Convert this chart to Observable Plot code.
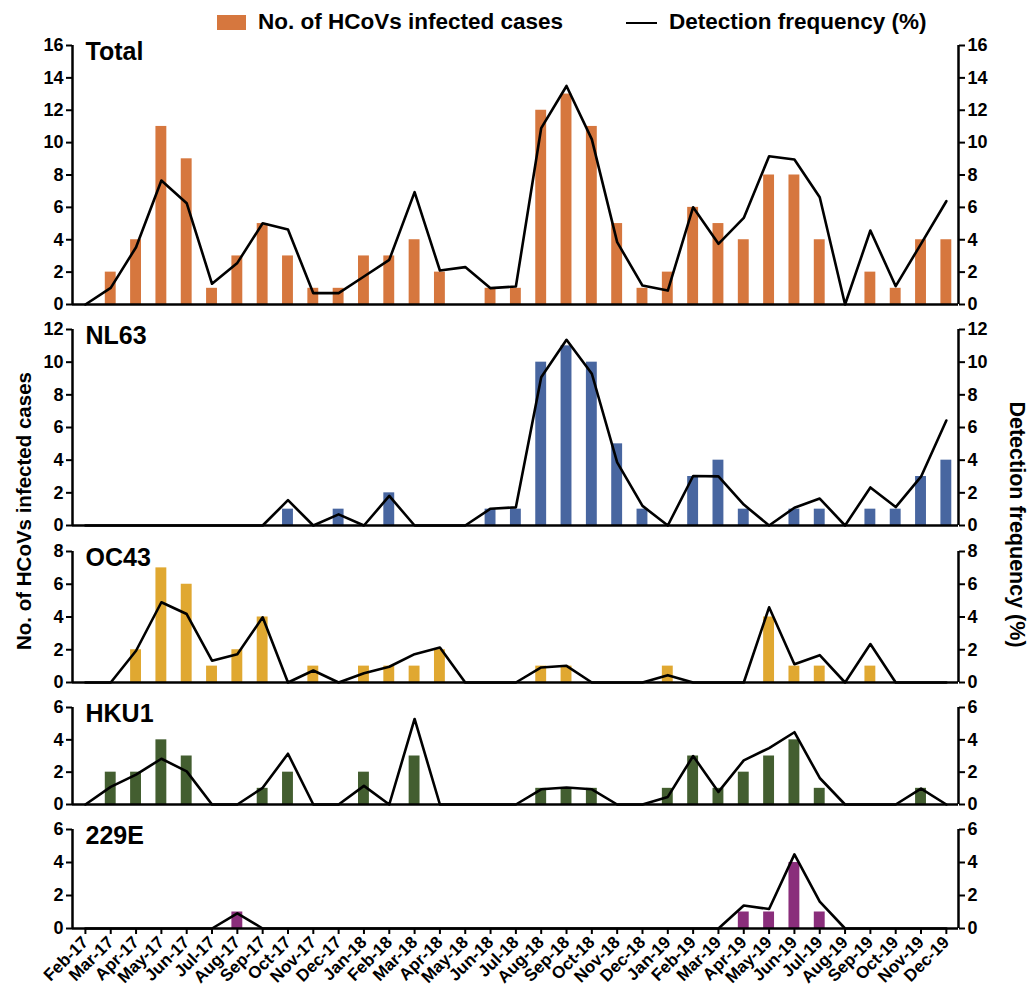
<!DOCTYPE html>
<html><head><meta charset="utf-8">
<script src="https://cdn.jsdelivr.net/npm/d3@7"></script>
<script src="https://cdn.jsdelivr.net/npm/@observablehq/plot@0.6"></script>
<style>
body{margin:0;background:#fff;}
#wrap{position:relative;width:1030px;height:994px;font-family:"Liberation Sans",Arial,sans-serif;font-weight:bold;color:#000;overflow:hidden;}
#wrap svg{position:absolute;left:0;overflow:visible;}
.leg{position:absolute;font-size:22.5px;line-height:26px;white-space:nowrap;}
.ylab{position:absolute;font-size:20.5px;white-space:nowrap;transform-origin:center center;}
</style>
</head><body>
<div id="wrap">
  <div class="leg" style="left:217px;top:15px;width:29px;height:15px;background:#D6773E"></div>
  <div class="leg" style="left:258px;top:9px;">No. of HCoVs infected cases</div>
  <div class="leg" style="left:626px;top:22px;width:31px;height:2px;background:#000"></div>
  <div class="leg" style="left:669px;top:9px;">Detection frequency (%)</div>
  <div class="ylab" id="ylabL">No. of HCoVs infected cases</div>
  <div class="ylab" id="ylabR" style="font-size:21.5px">Detection frequency (%)</div>
</div>
<script>
const months = ["Feb-17","Mar-17","Apr-17","May-17","Jun-17","Jul-17","Aug-17","Sep-17","Oct-17","Nov-17","Dec-17",
  "Jan-18","Feb-18","Mar-18","Apr-18","May-18","Jun-18","Jul-18","Aug-18","Sep-18","Oct-18","Nov-18","Dec-18",
  "Jan-19","Feb-19","Mar-19","Apr-19","May-19","Jun-19","Jul-19","Aug-19","Sep-19","Oct-19","Nov-19","Dec-19"];

const totalCases = [0,2,4,11,9,1,3,5,3,1,1, 3,3,4,2,0,1,1,12,13,11,5,1, 2,6,5,4,8,8,4,0,2,1,4,4];
const totalFreq  = [0,1.03,3.54,7.66,6.26,1.28,2.57,5.02,4.63,0.70,0.70, 1.73,2.76,6.94,2.10,2.31,1.01,1.11,10.9,13.5,10.2,3.85,1.17, 0.86,6.01,3.75,5.35,9.16,8.96,6.63,0,4.57,1.13,3.75,6.38];

const nl63Cases = [0,0,0,0,0,0,0,0,1,0,1, 0,2,0,0,0,1,1,10,11,10,5,1, 0,3,4,1,0,1,1,0,1,1,3,4];
const nl63Freq  = [0,0,0,0,0,0,0,0,1.55,0,0.68, 0,1.81,0,0,0,1.03,1.11,9.08,11.37,9.29,3.86,1.2, 0,3.03,3.01,1.28,0,1.09,1.65,0,2.33,1.13,2.99,6.43];

const oc43Cases = [0,0,2,7,6,1,2,4,0,1,0, 1,1,1,2,0,0,0,1,1,0,0,0, 1,0,0,0,4,1,1,0,1,0,0,0];
const oc43Freq  = [0,0,1.94,4.9,4.18,1.33,1.73,3.98,0,0.73,0, 0.57,0.96,1.73,2.14,0,0,0,0.92,1.02,0,0,0, 0.45,0,0,0,4.59,1.12,1.67,0,2.35,0,0,0];

const hku1Cases = [0,2,2,4,3,0,0,1,2,0,0, 2,0,3,0,0,0,0,1,1,1,0,0, 1,3,1,2,3,4,1,0,0,0,1,0];
const hku1Freq  = [0,1.09,1.85,2.83,2.05,0,0,1.03,3.14,0,0, 1.15,0,5.29,0,0,0,0,0.94,1.05,0.94,0,0, 0.47,3.0,0.78,2.73,3.49,4.47,1.64,0,0,0,0.98,0];

const e229Cases = [0,0,0,0,0,0,1,0,0,0,0, 0,0,0,0,0,0,0,0,0,0,0,0, 0,0,0,1,1,4,1,0,0,0,0,0];
const e229Freq  = [0,0,0,0,0,0,0.92,0,0,0,0, 0,0,0,0,0,0,0,0,0,0,0,0, 0,0,0,1.39,1.18,4.49,1.63,0,0,0,0,0];

const panelNames = ["Total","NL63","OC43","HKU1","229E"];
const panelMax = [16,12,8,6,6];
const panelCases = [totalCases, nl63Cases, oc43Cases, hku1Cases, e229Cases];
const panelFreq = [totalFreq, nl63Freq, oc43Freq, hku1Freq, e229Freq];
const panelColors = ["#D6773E","#4866A0","#E0A831","#435E30","#8A2E7B"];

// layout (pixel positions of each panel's top and zero line)
const layout = [[45,304],[329,525],[551,682],[707,804],[829,928]];

const wrap = document.getElementById("wrap");
const xDomain = [-0.51, 34.48];
const halfW = 0.215;
const font = '"Liberation Sans", Arial, sans-serif';

panelNames.forEach((name, p) => {
  const rows = months.map((m, i) => ({i, month: m, cases: panelCases[p][i], freq: panelFreq[p][i]}));
  const [yTop, yBot] = layout[p];
  const last = p === panelNames.length - 1;
  const mt = 14, mb = last ? 70 : 8;
  const ticksY = d3.range(0, panelMax[p] + 1, 2);
  const marks = [
    Plot.rectY(rows, {x1: d => d.i - halfW, x2: d => d.i + halfW, y1: 0, y2: "cases", fill: panelColors[p]}),
    Plot.line(rows, {x: "i", y: "freq", stroke: "#000", strokeWidth: 2.6}),
    Plot.axisY({anchor: "left", ticks: ticksY, tickFormat: d => String(d), tickSize: 6, tickPadding: 3, strokeWidth: 2, label: null, fontSize: 18, fontWeight: "bold"}),
    Plot.axisY({anchor: "right", ticks: ticksY, tickFormat: d => String(d), tickSize: 6, tickPadding: 3, strokeWidth: 2, label: null, fontSize: 18, fontWeight: "bold"}),
    Plot.ruleX([xDomain[0], xDomain[1]], {stroke: "#000", strokeWidth: 2.5}),
    Plot.ruleY([0], {stroke: "#000", strokeWidth: 2.5}),
    Plot.text([name], {frameAnchor: "top-left", lineAnchor: "top", textAnchor: "start", dx: 13, dy: -3, fontSize: 25, fontWeight: "bold"})
  ];
  if (last) {
    marks.push(Plot.axisX({anchor: "bottom", ticks: d3.range(months.length), tickFormat: i => months[i],
      tickRotate: -45, tickSize: 6, tickPadding: 5, strokeWidth: 2, label: null, fontSize: 17, fontWeight: "bold"}));
  }
  const svg = Plot.plot({
    width: 1030,
    height: mt + (yBot - yTop) + mb,
    marginLeft: 72, marginRight: 72, marginTop: mt, marginBottom: mb,
    style: {fontFamily: font, fontWeight: "bold", fontSize: "18px", background: "transparent", color: "#000", overflow: "visible"},
    x: {type: "linear", domain: xDomain, axis: null},
    y: {domain: [0, panelMax[p]], axis: null},
    marks
  });
  svg.style.top = (yTop - mt) + "px";
  wrap.appendChild(svg);
});

const L = document.getElementById("ylabL");
const lw = L.offsetWidth, lh = L.offsetHeight;
L.style.left = (24 - lw / 2) + "px"; L.style.top = (511 - lh / 2) + "px";
L.style.transform = "rotate(-90deg)";
const R = document.getElementById("ylabR");
const rw = R.offsetWidth, rh = R.offsetHeight;
R.style.left = (1016 - rw / 2) + "px"; R.style.top = (524 - rh / 2) + "px";
R.style.transform = "rotate(90deg)";
</script>
</body></html>
